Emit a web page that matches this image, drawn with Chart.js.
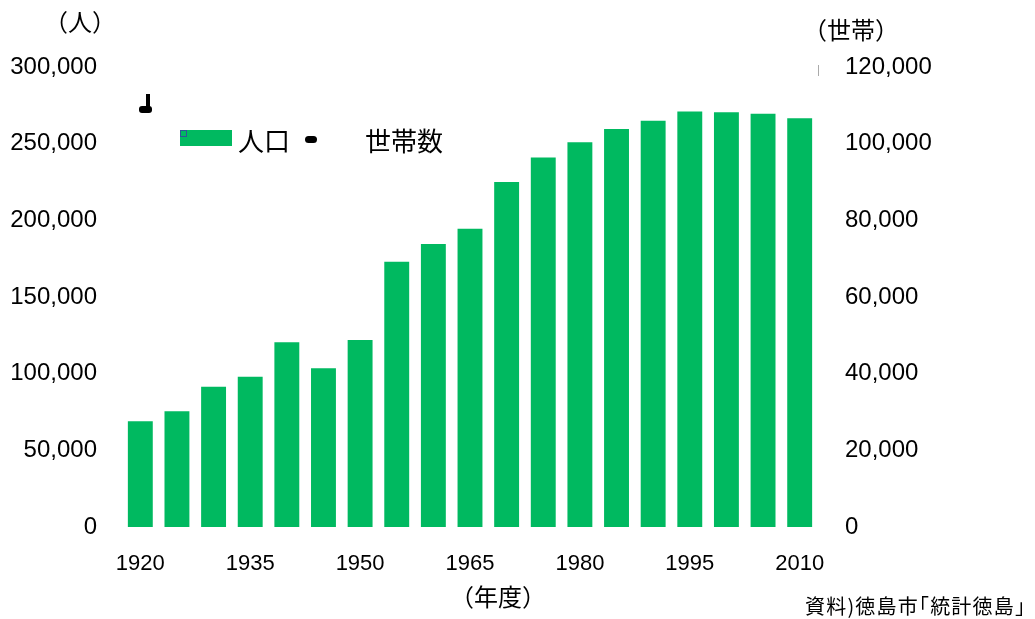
<!DOCTYPE html>
<html>
<head>
<meta charset="utf-8">
<script src="https://cdn.jsdelivr.net/npm/chart.js@4"></script>
<style>
  body { margin: 0; background: #fff; }
  #wrap { position: relative; width: 1035px; height: 619px; }
  .lbl { position: absolute; font-family: "Noto Sans CJK JP", sans-serif; color: #000; white-space: nowrap; line-height: 1; }
</style>
</head>
<body>
<div id="wrap">
  <canvas id="chart" width="1035" height="619"></canvas>
  <div class="lbl" style="left:44px; top:9px; font-size:24px;">（人）</div>
  <div class="lbl" style="left:803px; top:17px; font-size:24px;">（世帯）</div>
  <div class="lbl" style="left:450px; top:584px; font-size:24px;">（年度）</div>
  <div class="lbl" style="left:805px; top:596px; font-size:20px; letter-spacing:1.2px;">資料)徳島市｢統計徳島｣</div>
  <div id="legend"></div>
</div>
<script>
// 年度
const years = ['1920', '1925', '1930', '1935', '1940', '1945', '1950', '1955', '1960', '1965',
               '1970', '1975', '1980', '1985', '1990', '1995', '2000', '2005', '2010'];
// 人口
const population = [69000, 75500, 91500, 98000, 120500, 103500, 122000, 173000, 184500, 194500,
                    225000, 241000, 251000, 259500, 265000, 271000, 270500, 269500, 266500];
// 世帯数 (グラフ上には描かれていない)
const households = [];

const leftTicks = [0, 50000, 100000, 150000, 200000, 250000, 300000];
const rightTicks = [0, 20000, 40000, 60000, 80000, 100000, 120000];

const green = 'rgb(0, 185, 96)';
const tickFont = { family: 'Liberation Sans', size: 24 };

// 凡例
const legend = document.getElementById('legend');
legend.innerHTML =
  '<div style="position:absolute;left:180px;top:130px;width:52px;height:16px;background:' + green + '"></div>' +
  '<div style="position:absolute;left:180px;top:130px;width:5px;height:5px;border:1px solid #2f5597"></div>' +
  '<div class="lbl" style="left:238px;top:127px;font-size:26px;">人口</div>' +
  '<div style="position:absolute;left:305px;top:136px;width:12px;height:7px;border-radius:4px;background:#000"></div>' +
  '<div class="lbl" style="left:365px;top:127px;font-size:26px;">世帯数</div>' +
  // 左上の小さな記号
  '<div style="position:absolute;left:146px;top:94px;width:4px;height:16px;background:#000"></div>' +
  '<div style="position:absolute;left:139px;top:106px;width:13px;height:7px;border-radius:3px;background:#000"></div>' +
  '<div style="position:absolute;left:818px;top:65px;width:1px;height:11px;background:#aaa"></div>';

const chart = new Chart(document.getElementById('chart'), {
    type: 'bar',
    data: {
        labels: years,
        datasets: [{
            label: '人口',
            data: population,
            backgroundColor: green,
            barPercentage: 0.68,
            categoryPercentage: 1,
            yAxisID: 'y'
        }, {
            type: 'line',
            label: '世帯数',
            data: households,
            borderColor: '#000',
            yAxisID: 'y1'
        }]
    },
    options: {
        responsive: false,
        animation: false,
        layout: { padding: { top: 67, bottom: 0, left: 0, right: 0 } },
        plugins: {
            legend: { display: false },
            tooltip: { enabled: false }
        },
        scales: {
            x: {
                grid: { display: false, drawTicks: false },
                border: { display: false },
                ticks: {
                    autoSkip: false,
                    maxRotation: 0,
                    padding: 24,
                    color: '#000',
                    font: { family: 'Liberation Sans', size: 22 },
                    callback: (v, i) => i % 3 === 0 ? years[i] : ''
                },
                afterFit: s => { s.height = 92; }
            },
            y: {
                position: 'left',
                min: 0,
                max: 300000,
                grid: { display: false, drawTicks: false },
                border: { display: false },
                afterBuildTicks: s => { s.ticks = leftTicks.map(v => ({ value: v })); },
                ticks: {
                    padding: 25,
                    color: '#000',
                    font: tickFont,
                    callback: v => v.toLocaleString('en-US')
                },
                afterFit: s => { s.width = 122; }
            },
            y1: {
                position: 'right',
                min: 0,
                max: 120000,
                grid: { display: false, drawTicks: false },
                border: { display: false },
                afterBuildTicks: s => { s.ticks = rightTicks.map(v => ({ value: v })); },
                ticks: {
                    padding: 27,
                    color: '#000',
                    font: tickFont,
                    callback: v => v.toLocaleString('en-US')
                },
                afterFit: s => { s.width = 217; }
            }
        }
    }
});
</script>
</body>
</html>
